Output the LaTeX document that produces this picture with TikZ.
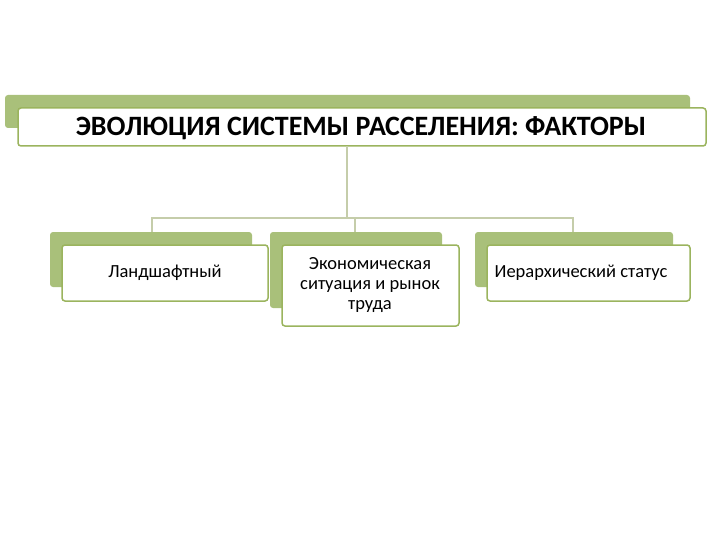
\documentclass[tikz,border=0pt]{standalone}
\usepackage{fontspec}
\setmainfont{Carlito}
\definecolor{back}{HTML}{A9C07A}
\definecolor{edge}{HTML}{9BB45E}
\definecolor{conn}{HTML}{C5CDAA}
\begin{document}
\begin{tikzpicture}[x=1pt,y=-1pt,
  backbox/.style={fill=back,rounded corners=3pt,draw=none},
  frontbox/.style={fill=white,draw=edge,line width=1.5pt,rounded corners=3pt},
  lbl/.style={align=center,font=\fontsize{18.5}{20}\selectfont,text=black},
  conline/.style={draw=conn,line width=1.2pt}]
\useasboundingbox (0,0) rectangle (720,540);
\fill[backbox] (5,95) rectangle (690,128);
\draw[frontbox] (18,108) rectangle (706,146);
\node[font=\fontsize{28}{30}\selectfont\bfseries] (title) at (361,128) {ЭВОЛЮЦИЯ СИСТЕМЫ РАССЕЛЕНИЯ: ФАКТОРЫ};
\coordinate (t) at (347,146);
\coordinate (j) at (347,218);
\coordinate (a) at (152,232);
\coordinate (b) at (355,232);
\coordinate (c) at (573,232);
\draw[conline] (t) -- (j);
\draw[conline] (a) |- (j) -| (c);
\draw[conline] (b) -- (355,218);
\fill[backbox] (50,232) rectangle (252,287);
\draw[frontbox] (62,245) rectangle (268,301);
\node[lbl] (n1) at (165,273) {Ландшафтный};
\fill[backbox] (270,232) rectangle (442,308);
\draw[frontbox] (282,245) rectangle (459,326);
\node[lbl] (n2) at (370,285) {Экономическая\\ситуация и рынок\\труда};
\fill[backbox] (475,232) rectangle (673,287);
\draw[frontbox] (487,245) rectangle (690,301);
\node[lbl] (n3) at (581,273) {Иерархический статус};
\end{tikzpicture}
\end{document}
